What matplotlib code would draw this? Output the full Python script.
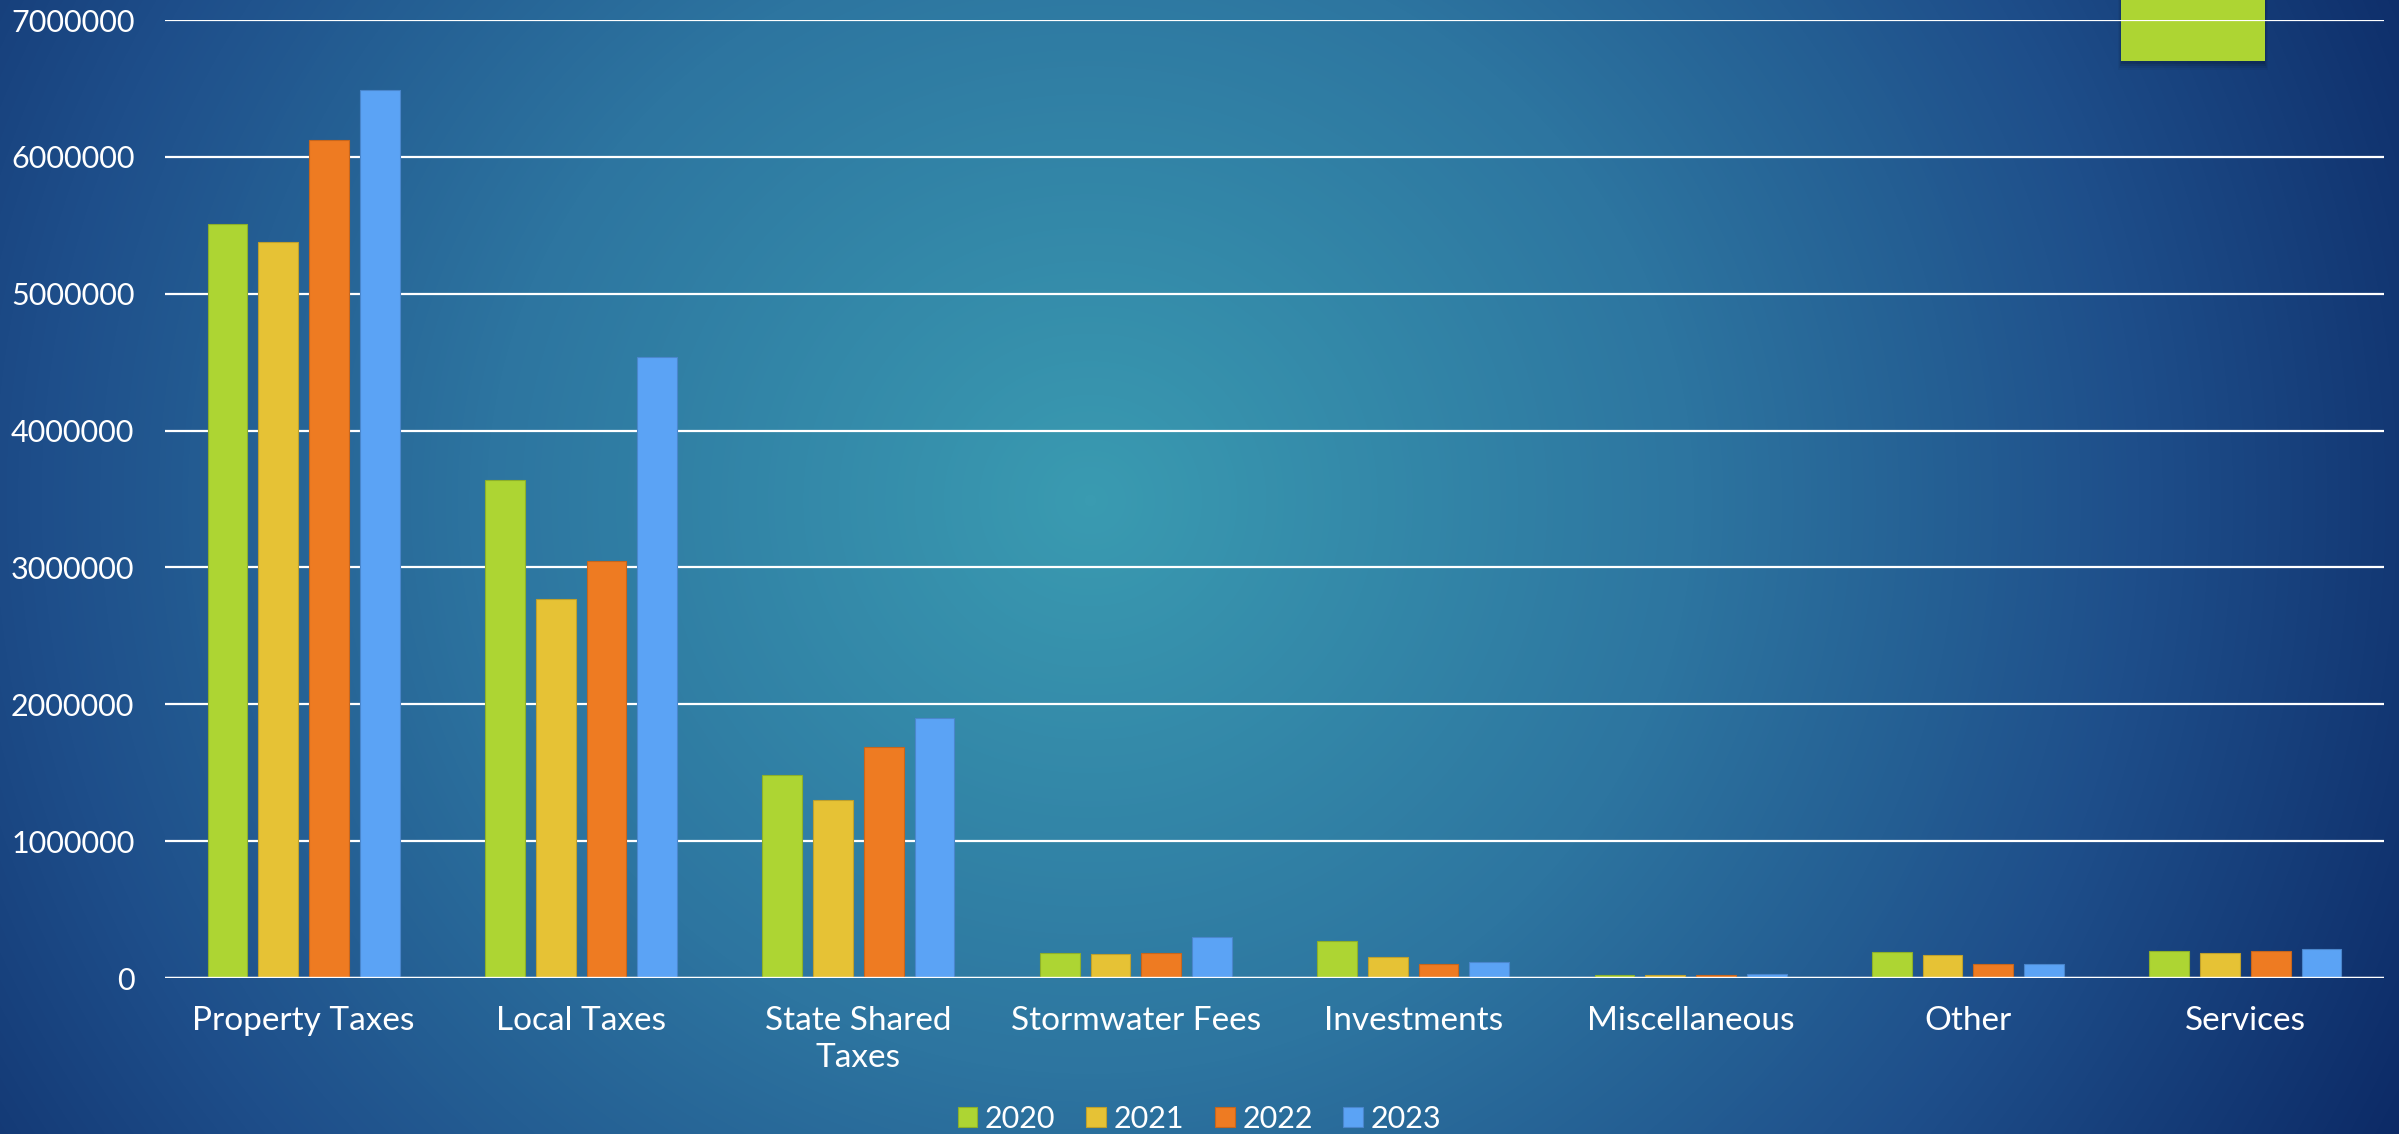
import numpy as np
import matplotlib.pyplot as plt
from matplotlib.colors import LinearSegmentedColormap
from matplotlib.patches import Rectangle

# data
categories = ['Property Taxes', 'Local Taxes', 'State Shared\nTaxes', 'Stormwater Fees',
              'Investments', 'Miscellaneous', 'Other', 'Services']
years = ['2020', '2021', '2022', '2023']
v2020 = [5510000, 3640000, 1480000, 180000, 270000, 20000, 190000, 200000]
v2021 = [5380000, 2770000, 1300000, 175000, 150000, 20000, 170000, 185000]
v2022 = [6120000, 3050000, 1690000, 180000, 105000, 20000, 105000, 200000]
v2023 = [6490000, 4540000, 1900000, 300000, 115000, 30000, 105000, 210000]
yticks = [0, 1000000, 2000000, 3000000, 4000000, 5000000, 6000000, 7000000]

colors = ['#ADD533', '#E6C235', '#EE7B22', '#5BA3F5']
edges = ['#8DB02A', '#BFA02C', '#C8661C', '#4A86CC']

plt.rcParams['font.family'] = ['Lato', 'DejaVu Sans']

W, H = 2399, 1134
fig = plt.figure(figsize=(W / 100, H / 100), dpi=100)

# radial gradient background
bg = fig.add_axes([0, 0, 1, 1], zorder=0)
yy, xx = np.mgrid[0:H, 0:W]
d = np.sqrt(((xx - 1090) / 1.0) ** 2 + ((yy - 500) / 0.95) ** 2) / 1500
d = np.clip(d, 0, 1)
cmap = LinearSegmentedColormap.from_list('bg', [(0, '#3A9BB1'), (0.4, '#2D75A0'),
                                                (0.7, '#1E4E8A'), (1.0, '#0B2864')])
bg.imshow(d, cmap=cmap, vmin=0, vmax=1, extent=[0, W, H, 0], aspect='auto')
# decorative green block in the top right with a soft shadow
for i, a in enumerate([0.10, 0.08, 0.06, 0.04]):
    bg.add_patch(Rectangle((2121 - i, 0), 144 + 2 * i, 64 + 2 * i, color='black', alpha=a, lw=0))
bg.add_patch(Rectangle((2121, 0), 144, 61, color='#ADD533', lw=0))
bg.set_xlim(0, W)
bg.set_ylim(H, 0)
bg.axis('off')

ax = fig.add_axes([165 / W, 1 - 978 / H, (2384 - 165) / W, (978 - 20) / H], zorder=1)
ax.patch.set_alpha(0)

x = np.arange(len(categories))
step = 0.183
width = 0.143
series = [v2020, v2021, v2022, v2023]
for i, vals in enumerate(series):
    ax.bar(x + (i - 1.5) * step, vals, width, color=colors[i], edgecolor=edges[i],
           linewidth=0.8, label=years[i], zorder=3)

ax.set_xlim(-0.5, len(categories) - 0.5)
ax.set_ylim(0, 7000000)
ax.set_yticks(yticks)
ax.set_yticklabels([str(t) for t in yticks])
ax.yaxis.grid(True, color='white', linewidth=1.6, zorder=1)
ax.set_axisbelow(True)
ax.axhline(0, color='white', linewidth=2.4, zorder=4)
for s in ax.spines.values():
    s.set_visible(False)

ax.set_xticks(x)
ax.set_xticklabels(categories, linespacing=1.3)
ax.tick_params(axis='both', length=0, colors='white')
ax.tick_params(axis='y', pad=22, labelsize=22)
ax.tick_params(axis='x', pad=20, labelsize=24)

fig.legend(loc='center', bbox_to_anchor=(0.5, 1 - 1119 / H), ncol=4, frameon=False,
           fontsize=22, labelcolor='white', handlelength=0.65, handleheight=0.65,
           handletextpad=0.25, columnspacing=1.0)

fig.savefig('out.png', dpi=100)
